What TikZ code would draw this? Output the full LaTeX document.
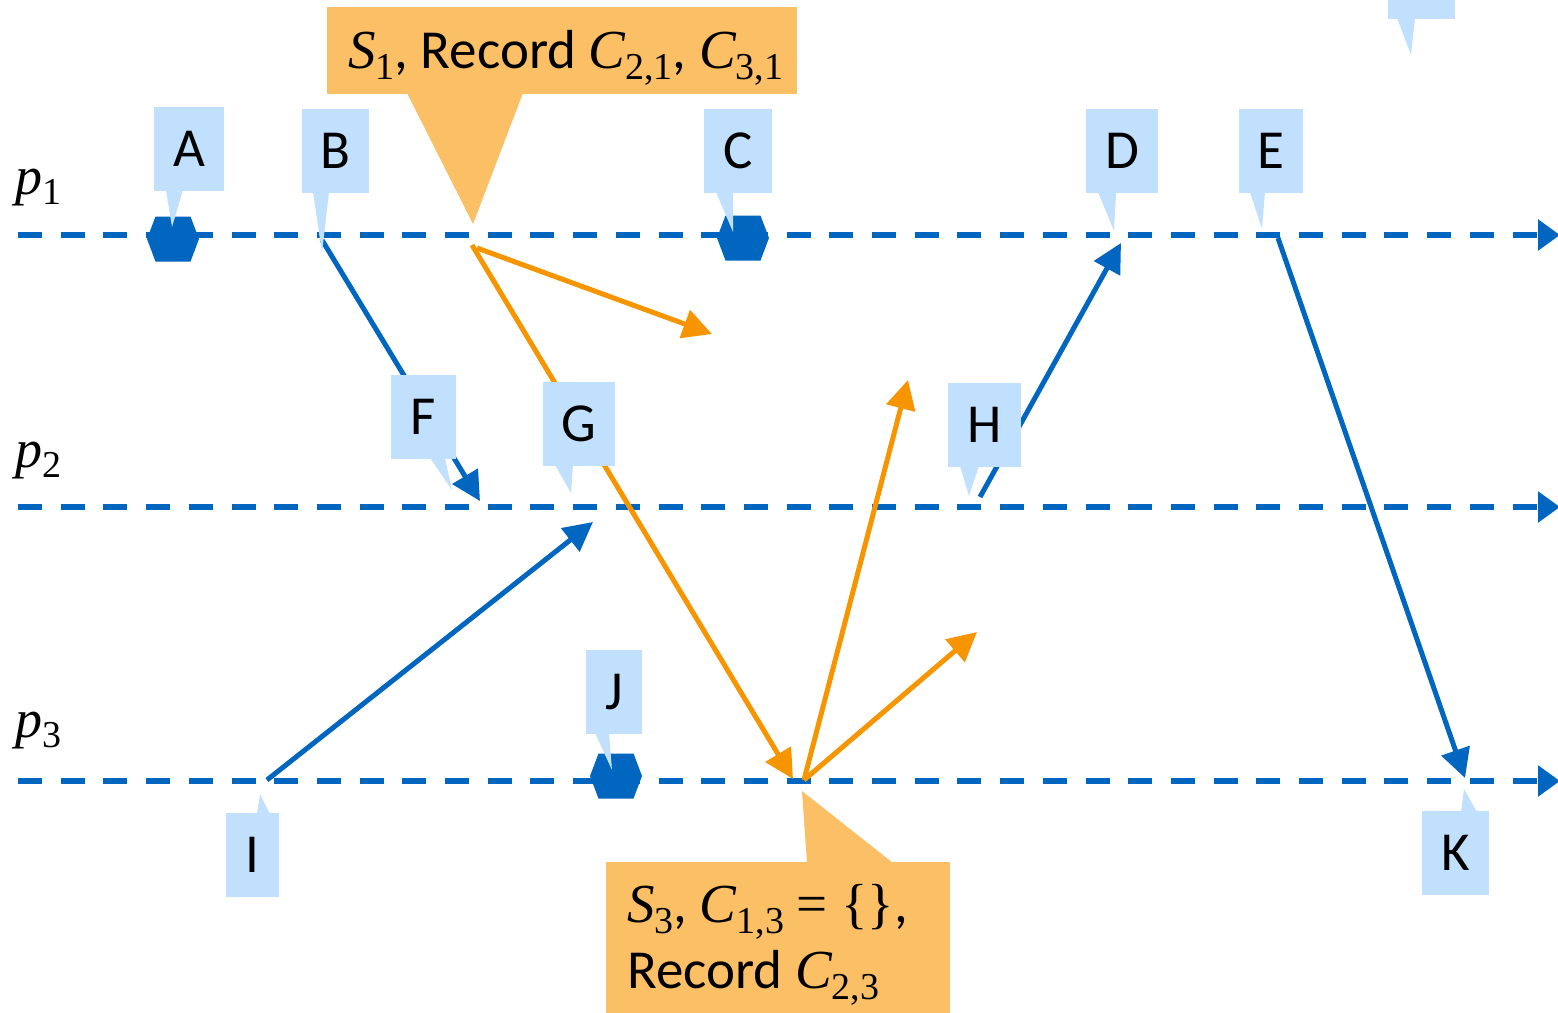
\documentclass[tikz,border=0pt]{standalone}
\usepackage{fontspec}
\setmainfont{Carlito}
\newfontfamily\mfont{Liberation Serif}
\newcommand\mi[1]{{\mfont\itshape #1}}
\newcommand\ms[1]{\raisebox{-0.2em}{\mfont\fontsize{38}{40}\selectfont #1}}
\usetikzlibrary{arrows.meta}
\definecolor{evblue}{RGB}{0,102,192}
\definecolor{callblue}{RGB}{192,224,254}
\definecolor{callorange}{RGB}{251,191,102}
\definecolor{msgorange}{RGB}{247,149,0}
\begin{document}
\begin{tikzpicture}[x=1pt,y=-1pt,
  timeline/.style={draw=evblue, line width=6pt, dash pattern=on 24pt off 18.7pt, -{Triangle[length=22pt,width=30pt]}},
  bluemsg/.style={draw=evblue, line width=5pt, -{Triangle[length=29pt,width=29pt]}},
  orangemsg/.style={draw=msgorange, line width=5pt, -{Triangle[length=29pt,width=29pt]}},
  bluebox/.style={fill=callblue, inner sep=0pt, minimum height=84pt, font=\fontsize{55}{60}\selectfont},
  orangebox/.style={fill=callorange, inner sep=0pt, anchor=north west},
  hexev/.style={fill=evblue},
  plabel/.style={anchor=base west, inner sep=0pt, font=\fontsize{54}{60}\selectfont},
  bigtext/.style={anchor=base west, inner sep=0pt, align=left, font=\fontsize{55}{66}\selectfont}]
\useasboundingbox (0,0) rectangle (1558,1012);
\clip (0,0) rectangle (1558,1012);

% process time lines
\coordinate (p1s) at (18,235);  \coordinate (p1e) at (1560,235);
\coordinate (p2s) at (18,507);  \coordinate (p2e) at (1560,507);
\coordinate (p3s) at (18,781);  \coordinate (p3e) at (1560,781);
\draw[timeline] (p1s) -- (p1e);
\draw[timeline] (p2s) -- (p2e);
\draw[timeline] (p3s) -- (p3e);

\node[plabel] (lp1) at (15,194) {\mi{p}\ms{1}};
\node[plabel] (lp2) at (15,467) {\mi{p}\ms{2}};
\node[plabel] (lp3) at (15,737) {\mi{p}\ms{3}};

% event points
\coordinate (b1) at (322,240);
\coordinate (f2) at (480,501);
\coordinate (i3) at (267,780);
\coordinate (g2) at (593,522);
\coordinate (h2) at (980,497);
\coordinate (d1) at (1121,243);
\coordinate (e1) at (1278,238);
\coordinate (k3) at (1465,778);
\coordinate (s1) at (472,245);
\coordinate (s1b) at (477,248);
\coordinate (o1) at (712,334);
\coordinate (s3in) at (793,779);
\coordinate (s3) at (804,780);
\coordinate (o2) at (908,380);
\coordinate (o3) at (977,632);

% messages
\draw[bluemsg] (b1) -- (f2);
\draw[bluemsg] (i3) -- (g2);
\draw[bluemsg] (h2) -- (d1);
\draw[bluemsg] (e1) -- (k3);
\draw[orangemsg] (s1) -- (s3in);
\draw[orangemsg] (s1b) -- (o1);
\draw[orangemsg] (s3) -- (o2);
\draw[orangemsg] (s3) -- (o3);

% local events (hexagons)
\coordinate (hA) at (173,239);
\coordinate (hC) at (743,238);
\coordinate (hJ) at (616,776);
\foreach \h in {hA,hC,hJ}
  \fill[hexev, shift={(\h)}] (-26,0) -- (-17.5,-22.5) -- (17.5,-22.5) -- (26,0) -- (17.5,22.5) -- (-17.5,22.5) -- cycle;

% blue callouts
\node[bluebox, minimum width=70pt] (A) at (189,149) {A};
\fill[callblue] (166,190) -- (172,227) -- (183,190) -- cycle;
\node[bluebox, minimum width=67pt] (B) at (335.5,151) {B};
\fill[callblue] (313,192) -- (322,253) -- (329,192) -- cycle;
\node[bluebox, minimum width=68pt] (C) at (738,151) {C};
\fill[callblue] (716,192) -- (733,232) -- (733,192) -- cycle;
\node[bluebox, minimum width=72pt] (D) at (1122,151) {D};
\fill[callblue] (1098,192) -- (1114,231) -- (1116,192) -- cycle;
\node[bluebox, minimum width=64pt] (E) at (1271,151) {E};
\fill[callblue] (1250,192) -- (1262,229) -- (1265,192) -- cycle;
\node[bluebox, minimum width=65pt] (F) at (423.5,417) {F};
\fill[callblue] (430,458) -- (452,490) -- (445,458) -- cycle;
\node[bluebox, minimum width=72pt] (G) at (579,424) {G};
\fill[callblue] (555,465) -- (571,493) -- (573,465) -- cycle;
\node[bluebox, minimum width=73pt] (H) at (984.5,425) {H};
\fill[callblue] (960,466) -- (969,496) -- (979,466) -- cycle;
\node[bluebox, minimum width=53pt] (I) at (252.5,855) {I};
\fill[callblue] (257,814) -- (260,794) -- (270,814) -- cycle;
\node[bluebox, minimum width=56pt] (J) at (614,692) {J};
\fill[callblue] (595,733) -- (612,770) -- (609,733) -- cycle;
\node[bluebox, minimum width=67pt] (K) at (1455.5,852.5) {K};
\fill[callblue] (1461,812) -- (1464,789) -- (1477,812) -- cycle;
\node[bluebox, minimum width=67pt] (L) at (1421.5,-23) {};
\fill[callblue] (1397,18) -- (1411,55) -- (1415,18) -- cycle;

% orange callouts
\node[orangebox, minimum width=470pt, minimum height=87pt] (S1box) at (327,7) {};
\fill[callorange] (407,93) -- (473,224) -- (523,93) -- cycle;
\node[bigtext] (S1txt) at (348,68) {\mi{S}\ms{1}, Record \mi{C}\ms{2,1}, \mi{C}\ms{3,1}};

\node[orangebox, minimum width=344pt, minimum height=160pt] (S3box) at (606,862) {};
\fill[callorange] (807,863) -- (802,791) -- (893,863) -- cycle;
\node[bigtext] (S3txt) at (627,988) {\mi{S}\ms{3}, \mi{C}\ms{1,3} {\mfont = \{\}},\\Record \mi{C}\ms{2,3}};
\end{tikzpicture}
\end{document}
